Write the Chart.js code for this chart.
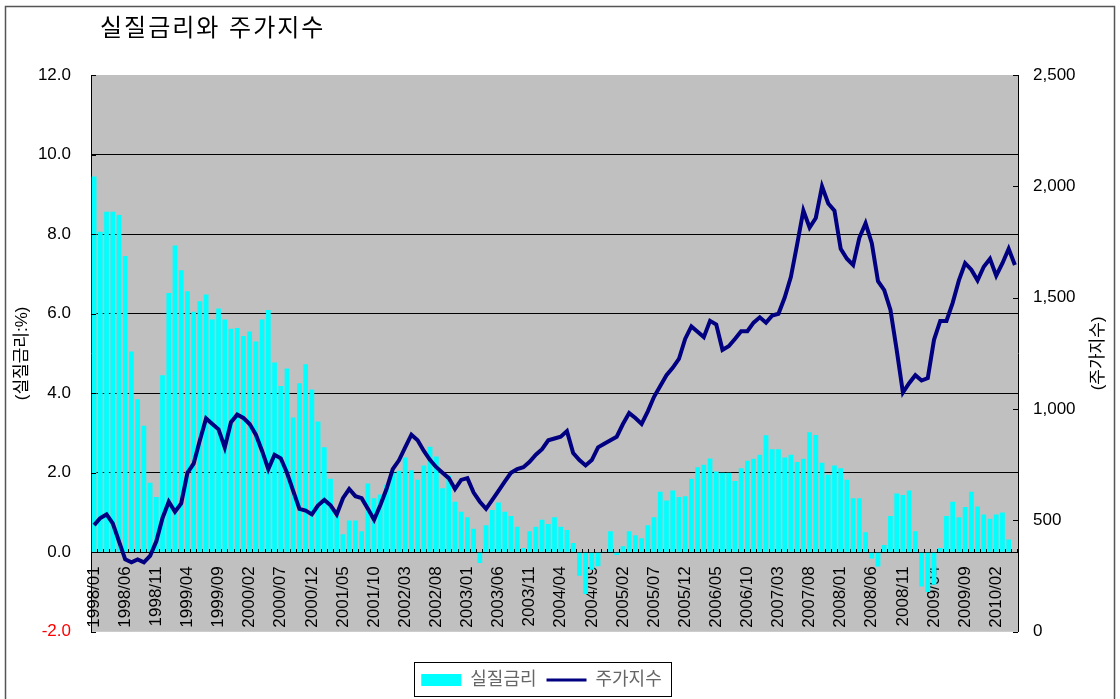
<!DOCTYPE html>
<html>
<head>
<meta charset="utf-8">
<script src="https://cdn.jsdelivr.net/npm/chart.js@4/dist/chart.umd.min.js"></script>
<style>
  html, body { margin: 0; padding: 0; background: #fff; }
  canvas { display: block; }
</style>
</head>
<body>
<canvas id="chart" width="1120" height="699"></canvas>
<script>
const FONT = 'Arial, "Liberation Sans", "Noto Sans CJK KR", sans-serif';

// monthly categories 1998/01 .. 2010/05
const months = [];
for (let y = 1998; y <= 2010; y++) {
  for (let m = 1; m <= 12; m++) {
    if (y === 2010 && m > 5) break;
    months.push(y + "/" + String(m).padStart(2, "0"));
  }
}

// real interest rate (%), left axis
const realRate = [
  9.45, 8.06, 8.56, 8.56, 8.48, 7.45, 5.05, 3.85, 3.18, 1.75, 1.39, 4.45,
  6.52, 7.71, 7.09, 6.56, 6.05, 6.31, 6.48, 5.85, 6.13, 5.85, 5.62, 5.64,
  5.44, 5.55, 5.30, 5.85, 6.09, 4.77, 4.18, 4.62, 3.39, 4.25, 4.73, 4.09,
  3.29, 2.64, 1.85, 0.91, 0.45, 0.80, 0.80, 0.53, 1.73, 1.36, 1.45, 1.70,
  2.00, 2.05, 2.38, 2.06, 1.82, 2.18, 2.65, 2.41, 1.61, 1.93, 1.27, 1.02,
  0.88, 0.59, -0.27, 0.68, 1.06, 1.25, 1.02, 0.91, 0.64, 0.11, 0.53, 0.64,
  0.82, 0.71, 0.88, 0.64, 0.56, 0.23, -0.59, -1.05, -0.44, -0.35, 0.02, 0.53,
  -0.07, 0.15, 0.53, 0.43, 0.35, 0.68, 0.88, 1.52, 1.30, 1.55, 1.39, 1.41,
  1.85, 2.14, 2.20, 2.36, 2.03, 2.00, 2.00, 1.79, 2.11, 2.30, 2.35, 2.45,
  2.94, 2.59, 2.59, 2.38, 2.45, 2.27, 2.35, 3.02, 2.95, 2.25, 1.95, 2.18,
  2.11, 1.82, 1.36, 1.36, 0.50, -0.16, -0.36, 0.18, 0.91, 1.48, 1.44, 1.55,
  0.53, -0.86, -1.00, -0.82, 0.11, 0.91, 1.27, 0.88, 1.14, 1.52, 1.15, 0.95,
  0.84, 0.95, 1.00, 0.32, null
];

// stock index, right axis
const stockIndex = [
  479, 511, 527, 487, 406, 325, 312, 325, 312, 341, 406, 511,
  584, 539, 576, 714, 755, 860, 958, 933, 909, 828, 941, 975,
  960, 933, 885, 812, 730, 795, 779, 714, 633, 552, 544, 527,
  568, 592, 568, 527, 600, 641, 609, 600, 552, 503, 568, 641,
  730, 770, 828, 885, 860, 812, 771, 739, 714, 690, 641, 682,
  690, 625, 584, 552, 592, 633, 674, 714, 730, 739, 763, 795,
  820, 860, 868, 876, 901, 803, 771, 747, 771, 828, 844, 860,
  876, 933, 982, 960, 933, 990, 1055, 1104, 1152, 1185, 1225, 1315,
  1371, 1347, 1323, 1396, 1380, 1266, 1282, 1315, 1350, 1350, 1388, 1412,
  1388, 1420, 1428, 1501, 1594, 1740, 1891, 1815, 1858, 2000, 1923, 1891,
  1720, 1675, 1647, 1769, 1834, 1745, 1574, 1534, 1445, 1266, 1074, 1116,
  1152, 1128, 1139, 1311, 1396, 1396, 1477, 1578, 1655, 1626, 1578, 1639,
  1675, 1599, 1655, 1720, 1647
];

const rateTicks = [-2, 0, 2, 4, 6, 8, 10, 12];
const indexTicks = [0, 500, 1000, 1500, 2000, 2500];

// plot background, frame, title, inner tick marks, legend border
const decor = {
  id: "decor",
  beforeDraw(chart) {
    const { ctx, chartArea: a } = chart;
    ctx.save();
    ctx.fillStyle = "#fff";
    ctx.fillRect(0, 0, chart.width, chart.height);
    ctx.fillStyle = "#C0C0C0";
    ctx.fillRect(a.left, a.top, a.right - a.left, a.bottom - a.top);
    ctx.restore();
  },
  afterDatasetsDraw(chart) {
    const { ctx, chartArea: a, scales } = chart;
    ctx.save();
    ctx.strokeStyle = "#000";
    ctx.lineWidth = 1;
    ctx.beginPath();
    rateTicks.forEach(v => {
      const y = Math.round(scales.y.getPixelForValue(v)) + 0.5;
      ctx.moveTo(a.left, y);
      ctx.lineTo(a.left + 5, y);
    });
    indexTicks.forEach(v => {
      const y = Math.round(scales.y1.getPixelForValue(v)) + 0.5;
      ctx.moveTo(a.right - 5, y);
      ctx.lineTo(a.right, y);
    });
    ctx.stroke();
    ctx.restore();
  },
  afterDraw(chart) {
    const { ctx, chartArea: a } = chart;
    ctx.save();
    // outer frame
    ctx.strokeStyle = "#555";
    ctx.lineWidth = 1.5;
    ctx.strokeRect(5.5, 6.5, 1109, 720);
    // title
    ctx.fillStyle = "#000";
    ctx.font = "24px " + FONT;
    ctx.letterSpacing = "2px";
    ctx.textBaseline = "middle";
    ctx.textAlign = "left";
    ctx.fillText("실질금리와 주가지수", 100, 29);
    ctx.letterSpacing = "0px";
    // right axis title, read bottom to top
    ctx.font = "17px " + FONT;
    ctx.translate(1098, (a.top + a.bottom) / 2);
    ctx.rotate(-Math.PI / 2);
    ctx.textAlign = "center";
    ctx.fillText("(주가지수)", 0, 0);
    ctx.restore();
    // legend border
    const boxes = chart.legend.legendHitBoxes;
    if (boxes && boxes.length) {
      const l = Math.min(...boxes.map(b => b.left)) - 7;
      const r = Math.max(...boxes.map(b => b.left + b.width)) + 10;
      const t = boxes[0].top - 9;
      const h = boxes[0].height + 16;
      ctx.save();
      ctx.strokeStyle = "#000";
      ctx.lineWidth = 1;
      ctx.strokeRect(Math.round(l) + 0.5, Math.round(t) + 0.5, Math.round(r - l), Math.round(h));
      ctx.restore();
    }
  }
};

new Chart(document.getElementById("chart"), {
  type: "bar",
  data: {
    labels: months,
    datasets: [
      {
        type: "bar",
        label: "실질금리",
        data: realRate,
        backgroundColor: "#00FFFF",
        borderWidth: 0,
        categoryPercentage: 1,
        barPercentage: 0.76,
        yAxisID: "y",
        order: 2
      },
      {
        type: "line",
        label: "주가지수",
        data: stockIndex,
        borderColor: "#000080",
        borderWidth: 4,
        pointRadius: 0,
        tension: 0,
        fill: false,
        yAxisID: "y1",
        order: 1
      }
    ]
  },
  options: {
    responsive: false,
    animation: false,
    devicePixelRatio: 1,
    layout: { padding: { left: 8, right: 45, top: 75, bottom: 0 } },
    plugins: {
      tooltip: { enabled: false },
      title: { display: false },
      legend: {
        position: "bottom",
        title: { display: true, text: "", font: { size: 1 }, padding: { top: 0, bottom: 28 } },
        labels: {
          usePointStyle: true,
          pointStyleWidth: 40,
          boxHeight: 12,
          padding: 10,
          color: "#000",
          font: { family: FONT, size: 18 },
          generateLabels: () => [
            { text: "실질금리", fillStyle: "#00FFFF", strokeStyle: "#00FFFF", lineWidth: 0, pointStyle: "rect", datasetIndex: 0, hidden: false },
            { text: "주가지수", fillStyle: "#000080", strokeStyle: "#000080", lineWidth: 3, pointStyle: "line", datasetIndex: 1, hidden: false }
          ]
        }
      }
    },
    scales: {
      x: {
        position: { y: 0 },
        offset: true,
        grid: { display: true, drawOnChartArea: false, offset: true, tickLength: -4, color: "#000" },
        border: { display: true, color: "#000" },
        ticks: {
          autoSkip: false,
          minRotation: 90,
          maxRotation: 90,
          padding: 18,
          color: "#000",
          font: { family: FONT, size: 17 },
          callback: (v, i) => (i % 5 === 0 ? months[i] : "")
        }
      },
      y: {
        position: "left",
        min: -2,
        max: 12,
        afterBuildTicks: s => { s.ticks = rateTicks.map(v => ({ value: v })); },
        afterFit: s => { s.width = 83; },
        ticks: {
          padding: 20,
          font: { family: FONT, size: 17 },
          color: c => (c.tick.value < 0 ? "#FF0000" : "#000"),
          callback: v => v.toFixed(1)
        },
        grid: {
          drawTicks: false,
          color: c => ([-2, 0, 12].includes(c.tick.value) ? "rgba(0,0,0,0)" : "#000")
        },
        border: { color: "#000" },
        title: {
          display: true,
          text: "(실질금리:%)",
          color: "#000",
          font: { family: FONT, size: 17 },
          padding: { top: 4, bottom: 4 }
        }
      },
      y1: {
        position: "right",
        min: 0,
        max: 2500,
        afterBuildTicks: s => { s.ticks = indexTicks.map(v => ({ value: v })); },
        afterFit: s => { s.width = 57; },
        ticks: {
          padding: 15,
          color: "#000",
          font: { family: FONT, size: 17 }
        },
        grid: { drawOnChartArea: false, drawTicks: false },
        border: { color: "#000" }
      }
    }
  },
  plugins: [decor]
});
</script>
</body>
</html>
